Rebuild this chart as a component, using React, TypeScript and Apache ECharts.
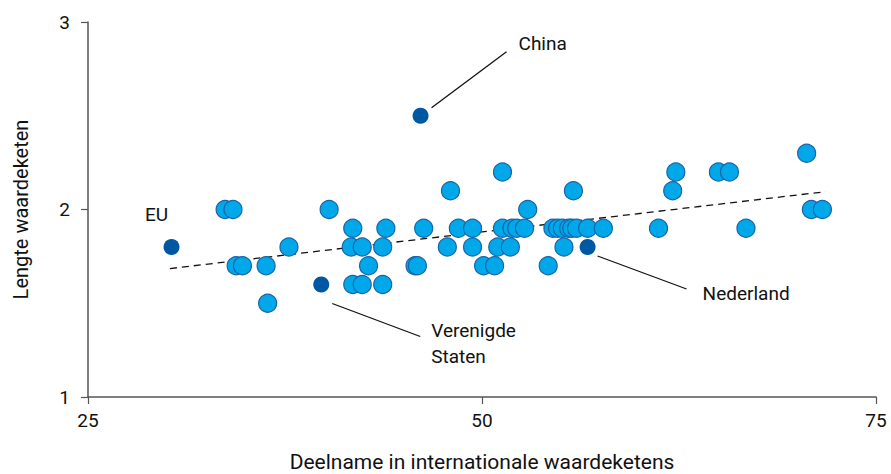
import React, { useEffect, useRef } from "react";
import * as echarts from "echarts";

// Light points (countries), grouped by y value
const lightX = [
  70.6,
  51.3, 62.3, 65.0, 65.7,
  48.0, 55.8, 62.1,
  33.7, 34.2, 40.3, 52.9, 70.9, 71.6,
  41.8, 43.9, 46.3, 48.5, 49.4, 51.3, 51.9, 52.2, 52.7, 54.5, 54.8, 55.1, 55.5, 55.7, 56.0, 56.7, 57.7, 61.2, 66.75,
  37.75, 41.7, 42.4, 43.7, 47.8, 49.4, 51.0, 51.8, 55.2,
  34.4, 34.8, 36.3, 42.8, 45.75, 45.9, 50.1, 50.8, 54.2,
  41.8, 42.4, 43.7,
  36.4,
];
const lightY = [
  2.3,
  2.2, 2.2, 2.2, 2.2,
  2.1, 2.1, 2.1,
  2.0, 2.0, 2.0, 2.0, 2.0, 2.0,
  1.9, 1.9, 1.9, 1.9, 1.9, 1.9, 1.9, 1.9, 1.9, 1.9, 1.9, 1.9, 1.9, 1.9, 1.9, 1.9, 1.9, 1.9, 1.9,
  1.8, 1.8, 1.8, 1.8, 1.8, 1.8, 1.8, 1.8, 1.8,
  1.7, 1.7, 1.7, 1.7, 1.7, 1.7, 1.7, 1.7, 1.7,
  1.6, 1.6, 1.6,
  1.5,
];

// Highlighted points
const highlightNames = ["EU", "China", "Verenigde\nStaten", "Nederland"];
const highlightX = [30.3, 46.1, 39.8, 56.7];
const highlightY = [1.8, 2.5, 1.6, 1.8];

// Trend line end points
const trendX = [30.2, 71.8];
const trendY = [1.685, 2.095];

const xTicks = [25, 50, 75];
const yTicks = [1, 2, 3];

const FONT = "Roboto";

export default function App() {
  const ref = useRef<HTMLDivElement>(null);
  useEffect(() => {
    if (!ref.current) return;
    const chart = echarts.init(ref.current, null, { renderer: "svg" });
    const axisColor = "#555";
    chart.setOption({
      animation: false,
      textStyle: { fontFamily: FONT },
      grid: { left: 88, right: 15, top: 22, bottom: 77, outerBoundsMode: "none" },
      xAxis: {
        type: "value",
        min: xTicks[0],
        max: xTicks[xTicks.length - 1],
        interval: 25,
        name: "Deelname in internationale waardeketens",
        nameLocation: "middle",
        nameGap: 54,
        nameTextStyle: { fontSize: 21, color: "#111", fontFamily: FONT, fontWeight: 400 },
        axisLine: { show: true, lineStyle: { color: axisColor, width: 1.5 } },
        axisTick: { show: true, length: 7, lineStyle: { color: axisColor, width: 1.2 } },
        axisLabel: { fontSize: 19, color: "#111", margin: 14, fontFamily: FONT, fontWeight: 400 },
        splitLine: { show: false },
      },
      yAxis: {
        type: "value",
        min: yTicks[0],
        max: yTicks[yTicks.length - 1],
        interval: 1,
        name: "Lengte waardeketen",
        nameLocation: "middle",
        nameGap: 57,
        nameTextStyle: { fontSize: 20, color: "#111", fontFamily: FONT, fontWeight: 400 },
        axisLine: { show: true, lineStyle: { color: axisColor, width: 1.5 } },
        axisTick: { show: true, length: 7, lineStyle: { color: axisColor, width: 1.2 } },
        axisLabel: { fontSize: 19, color: "#111", margin: 18, fontFamily: FONT, fontWeight: 400 },
        splitLine: { show: false },
      },
      series: [
        {
          type: "line",
          data: trendX.map((x, i) => [x, trendY[i]]),
          symbol: "none",
          lineStyle: { color: "#111", width: 1.3, type: [7, 5] },
          z: 1,
          silent: true,
        },
        {
          type: "scatter",
          data: lightX.map((x, i) => [x, lightY[i]]),
          symbolSize: 18,
          itemStyle: { color: "#00A8EA", borderColor: "#1763A8", borderWidth: 1.2, opacity: 1 },
          z: 2,
        },
        {
          type: "scatter",
          data: highlightX.map((x, i) => ({ name: highlightNames[i], value: [x, highlightY[i]] })),
          symbolSize: 16,
          itemStyle: { color: "#0057A2", opacity: 1 },
          z: 3,
        },
      ],
    });

    // Annotations positioned from data through the chart's scales
    const px = highlightX.map((x, i) => chart.convertToPixel({ seriesIndex: 2 }, [x, highlightY[i]]) as number[]);
    const textStyle = { fill: "#111", fontSize: 19, fontFamily: FONT, fontWeight: 400 };
    const lineStyle = { stroke: "#111", lineWidth: 1.3 };
    const [eu, cn, us, nl] = px;
    chart.setOption({
      graphic: [
        { type: "text", x: eu[0] - 15, y: eu[1] - 33, style: { ...textStyle, text: "EU", align: "center", verticalAlign: "middle" } },
        { type: "line", shape: { x1: cn[0] + 11, y1: cn[1] - 8, x2: cn[0] + 86, y2: cn[1] - 64 }, style: lineStyle },
        { type: "text", x: cn[0] + 98, y: cn[1] - 72, style: { ...textStyle, text: "China", align: "left", verticalAlign: "middle" } },
        { type: "line", shape: { x1: us[0] + 11, y1: us[1] + 19, x2: us[0] + 99, y2: us[1] + 52 }, style: lineStyle },
        { type: "text", x: us[0] + 110, y: us[1] + 46, style: { ...textStyle, text: "Verenigde", align: "left", verticalAlign: "middle" } },
        { type: "text", x: us[0] + 110, y: us[1] + 72, style: { ...textStyle, text: "Staten", align: "left", verticalAlign: "middle" } },
        { type: "line", shape: { x1: nl[0] + 10, y1: nl[1] + 9, x2: nl[0] + 99, y2: nl[1] + 42 }, style: lineStyle },
        { type: "text", x: nl[0] + 115, y: nl[1] + 46, style: { ...textStyle, text: "Nederland", align: "left", verticalAlign: "middle" } },
      ],
    });

    return () => chart.dispose();
  }, []);
  return (
    <div
      ref={ref}
      style={{ position: "fixed", left: 0, top: 0, width: 891, height: 474, background: "#fff" }}
    />
  );
}
